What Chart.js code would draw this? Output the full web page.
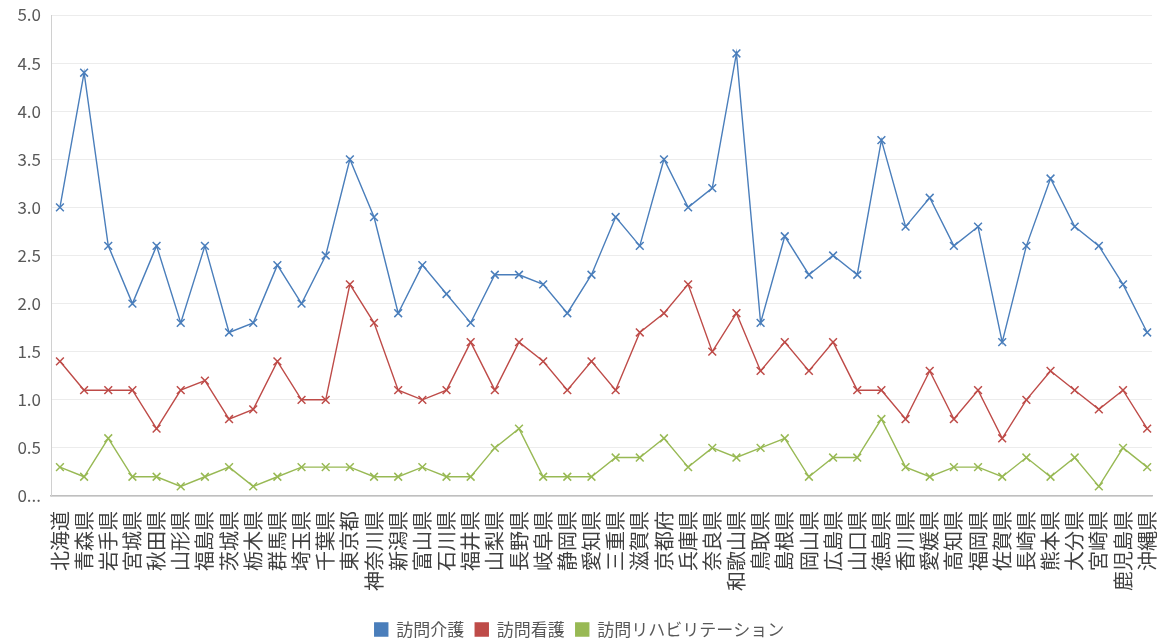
<!DOCTYPE html>
<html>
<head>
<meta charset="utf-8">
<script src="https://cdn.jsdelivr.net/npm/chart.js@4"></script>
<style>
  html, body { margin:0; padding:0; background:#fff; }
  #wrap { width:1159px; height:640px; position:relative; }
</style>
</head>
<body>
<div id="wrap"><canvas id="c"></canvas></div>
<script>
const prefectures = ["北海道","青森県","岩手県","宮城県","秋田県","山形県","福島県","茨城県","栃木県","群馬県","埼玉県","千葉県","東京都","神奈川県","新潟県","富山県","石川県","福井県","山梨県","長野県","岐阜県","静岡県","愛知県","三重県","滋賀県","京都府","兵庫県","奈良県","和歌山県","鳥取県","島根県","岡山県","広島県","山口県","徳島県","香川県","愛媛県","高知県","福岡県","佐賀県","長崎県","熊本県","大分県","宮崎県","鹿児島県","沖縄県"];
const seriesNames = ["訪問介護","訪問看護","訪問リハビリテーション"];
const homeCare = [3.0,4.4,2.6,2.0,2.6,1.8,2.6,1.7,1.8,2.4,2.0,2.5,3.5,2.9,1.9,2.4,2.1,1.8,2.3,2.3,2.2,1.9,2.3,2.9,2.6,3.5,3.0,3.2,4.6,1.8,2.7,2.3,2.5,2.3,3.7,2.8,3.1,2.6,2.8,1.6,2.6,3.3,2.8,2.6,2.2,1.7];
const homeNursing = [1.4,1.1,1.1,1.1,0.7,1.1,1.2,0.8,0.9,1.4,1.0,1.0,2.2,1.8,1.1,1.0,1.1,1.6,1.1,1.6,1.4,1.1,1.4,1.1,1.7,1.9,2.2,1.5,1.9,1.3,1.6,1.3,1.6,1.1,1.1,0.8,1.3,0.8,1.1,0.6,1.0,1.3,1.1,0.9,1.1,0.7];
const homeRehab = [0.3,0.2,0.6,0.2,0.2,0.1,0.2,0.3,0.1,0.2,0.3,0.3,0.3,0.2,0.2,0.3,0.2,0.2,0.5,0.7,0.2,0.2,0.2,0.4,0.4,0.6,0.3,0.5,0.4,0.5,0.6,0.2,0.4,0.4,0.8,0.3,0.2,0.3,0.3,0.2,0.4,0.2,0.4,0.1,0.5,0.3];
const yTickLabels = ["0...","0.5","1.0","1.5","2.0","2.5","3.0","3.5","4.0","4.5","5.0"];

const colors = ["#4A7EBB","#BE4B48","#98B954"];
const allSeries = [homeCare, homeNursing, homeRehab];
const FONT = "'Noto Sans CJK JP','Noto Sans',sans-serif";

const datasets = allSeries.map((arr, i) => ({
  label: seriesNames[i],
  data: arr.map((v, k) => ({x: k, y: v})),
  borderColor: colors[i],
  backgroundColor: colors[i],
  borderWidth: 1.4,
  pointStyle: 'crossRot',
  pointRadius: 5.5,
  pointBorderWidth: 1.5,
  pointBorderColor: colors[i],
  tension: 0,
  fill: false
}));

new Chart(document.getElementById('c'), {
  type: 'line',
  data: { datasets },
  options: {
    responsive: true,
    maintainAspectRatio: false,
    animation: false,
    layout: { padding: { top: 15, right: 0, left: 0, bottom: -8 } },
    plugins: {
      tooltip: { enabled: false },
      legend: {
        position: 'bottom',
        labels: {
          boxWidth: 13, boxHeight: 13,
          color: '#595959',
          font: { family: FONT, size: 17 },
          padding: 11
        }
      }
    },
    scales: {
      x: {
        type: 'linear',
        min: -0.37, max: 45.2,
        afterFit: s => { s.paddingLeft = 0; s.paddingRight = 0; s.height = 114; },
        afterBuildTicks: s => { s.ticks = prefectures.map((p, i) => ({value: i})); },
        ticks: {
          autoSkip: false,
          maxRotation: 90, minRotation: 90,
          color: '#404040',
          padding: 15,
          font: { family: FONT, size: 20 },
          callback: (v) => prefectures[v] ?? ''
        },
        grid: { display: false, drawTicks: false },
        border: { display: true, color: '#bfbfbf', width: 1.5 }
      },
      y: {
        min: 0, max: 5,
        afterFit: s => { s.width = 51; s.paddingTop = 0; s.paddingBottom = 0; },
        ticks: {
          stepSize: 0.5,
          color: '#595959',
          padding: 10,
          font: { family: FONT, size: 17 },
          callback: (v) => yTickLabels[Math.round(v * 2)]
        },
        grid: { color: '#ececec', lineWidth: 1, drawTicks: false },
        border: { display: true, color: '#d0d0d0', width: 1 }
      }
    }
  }
});
</script>
</body>
</html>
